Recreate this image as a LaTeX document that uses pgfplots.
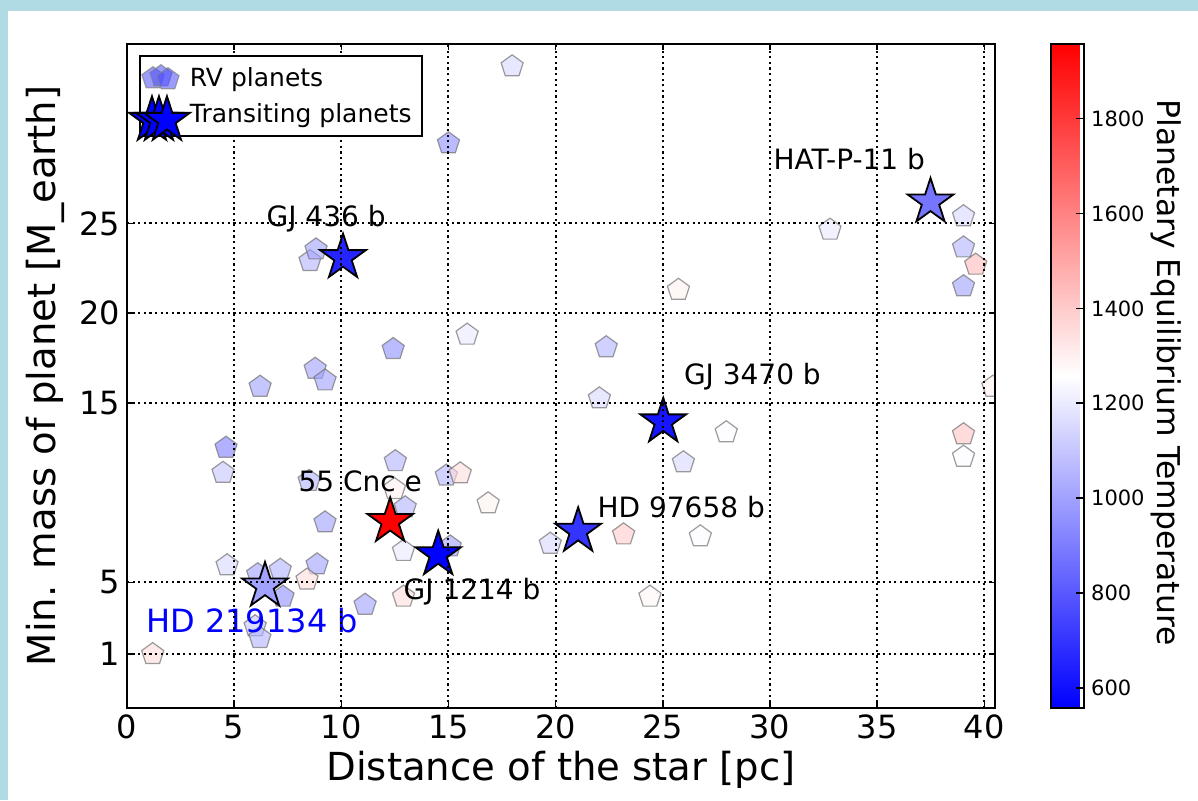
\documentclass[border=0pt]{standalone}
\usepackage{fontspec}
\setmainfont{DejaVu Sans}
\usepackage{pgfplots}
\usepackage{pgfplotstable}
\pgfplotsset{compat=1.18}
\usetikzlibrary{plotmarks}
\definecolor{bgblue}{RGB}{176,218,228}

\pgfdeclareplotmark{fstar}{%
  \pgfpathmoveto{\pgfpointpolar{90}{\pgfplotmarksize}}%
  \pgfpathlineto{\pgfpointpolar{126}{0.382\pgfplotmarksize}}%
  \pgfpathlineto{\pgfpointpolar{162}{\pgfplotmarksize}}%
  \pgfpathlineto{\pgfpointpolar{198}{0.382\pgfplotmarksize}}%
  \pgfpathlineto{\pgfpointpolar{234}{\pgfplotmarksize}}%
  \pgfpathlineto{\pgfpointpolar{270}{0.382\pgfplotmarksize}}%
  \pgfpathlineto{\pgfpointpolar{306}{\pgfplotmarksize}}%
  \pgfpathlineto{\pgfpointpolar{342}{0.382\pgfplotmarksize}}%
  \pgfpathlineto{\pgfpointpolar{18}{\pgfplotmarksize}}%
  \pgfpathlineto{\pgfpointpolar{54}{0.382\pgfplotmarksize}}%
  \pgfpathclose
  \pgfusepathqfillstroke
}

% RV planets: distance [pc], min. mass [M_earth], T_eq [K]
\pgfplotstableread{
x y t
17.97 33.75 1150
15.00 29.46 950
8.54 22.90 1050
8.82 23.55 1000
6.21 15.90 1000
8.78 16.90 1000
9.24 16.25 1000
12.42 18.00 950
15.87 18.80 1200
22.36 18.10 1050
22.04 15.25 1150
4.62 12.50 900
4.48 11.10 1100
12.52 11.75 1050
14.90 10.95 1050
15.55 11.07 1350
16.85 9.40 1300
8.50 10.65 1050
12.48 10.20 1300
12.98 9.18 1050
9.24 8.34 1000
12.90 6.75 1200
15.08 7.00 1000
4.67 5.95 1150
6.10 5.45 1000
7.15 5.70 1050
8.87 6.00 1000
8.40 5.15 1350
7.28 4.20 950
11.11 3.75 1000
12.90 4.20 1350
5.98 2.55 1100
6.20 1.90 1050
1.20 1.00 1350
19.75 7.15 1150
23.17 7.67 1400
24.40 4.20 1280
26.75 7.56 1250
27.96 13.36 1250
25.96 11.69 1150
25.73 21.30 1300
32.80 24.65 1200
39.03 25.40 1150
39.03 23.66 1050
39.60 22.70 1450
39.03 21.50 1000
39.03 13.25 1420
39.03 12.00 1250
40.40 15.90 1300
}\rvdata

% Transiting planets
\pgfplotstableread{
x y t
10.08 23.10 660
37.49 26.20 880
25.02 13.95 615
12.28 8.40 1957
14.52 6.55 560
21.05 7.85 700
6.44 4.80 1000
}\trdata

\begin{document}
\begin{tikzpicture}
\fill[bgblue] (-63.5pt,-46pt) rectangle (535.5pt,354pt);
\fill[white] (-59.5pt,-46pt) rectangle (535.5pt,348.5pt);
\begin{axis}[
  scale only axis, width=434pt, height=332pt,
  xmin=0, xmax=40.5, ymin=-2, ymax=35,
  xtick={0,5,...,40}, ytick={1,5,15,20,25},
  grid=major,
  major grid style={black, line width=1pt, dash pattern=on 1.1pt off 1.7pt},
  axis on top,
  tick align=inside,
  major tick length=3pt,
  tick style={black, line width=0.8pt},
  axis line style={line width=1.1pt},
  tick label style={font=\fontsize{16}{19}\selectfont},
  /pgf/number format/assume math mode=true,
  xlabel={Distance of the star [pc]},
  ylabel={Min. mass of planet [M\_earth]},
  label style={font=\fontsize{19.3}{22}\selectfont},
  xlabel style={at={(axis description cs:0.5,-0.0934)}, anchor=center},
  ylabel style={at={(axis description cs:-0.0945,0.5)}, anchor=center},
  colormap={bwr}{rgb=(0,0,1) rgb=(1,1,1) rgb=(1,0,0)},
  point meta min=558, point meta max=1957,
  colorbar,
  colorbar style={
    at={(parent axis.north east)}, anchor=north west, xshift=19.5pt,
    scale only axis, width=16.5pt, height=332pt,
    grid=none,
    ytick={600,800,...,1800},
    ytick pos=right, yticklabel pos=right,
    tick align=inside, major tick length=4pt,
    tick style={black, line width=0.8pt},
    axis line style={line width=1pt},
    yticklabel style={font=\fontsize{10.5}{12}\selectfont},
    /pgf/number format/1000 sep={},
    /pgf/number format/assume math mode=true,
    ylabel={Planetary Equilibrium Temperature},
    ylabel style={font=\fontsize{15.7}{18}\selectfont, at={(axis description cs:3.5,0.505)}, anchor=center, rotate=180},
  },
  clip marker paths=true,
  legend style={at={(axis description cs:0.0138,0.983)}, anchor=north west,
    draw=black, line width=1pt, fill=white,
    font=\fontsize{12.5}{15}\selectfont, inner xsep=3pt, inner ysep=3.5pt, row sep=3pt},
  legend cell align=left,
]
\addlegendimage{legend image code/.code={
  \begin{pgfinterruptboundingbox}
  \path[draw=none,fill=none] plot[only marks, mark=pentagon*, mark size=5.8pt,
     mark options={draw=black!50, line width=0.6pt, fill=blue!70, fill opacity=0.55, draw opacity=0.7}]
     coordinates {(3.5pt,0pt)(7.5pt,1pt)(11pt,-0.5pt)};
  \end{pgfinterruptboundingbox}
  \path[draw=none,fill=none] (0pt,-5pt) rectangle (20pt,5pt);
}}
\addlegendentry{RV planets}
\addlegendimage{legend image code/.code={
  \begin{pgfinterruptboundingbox}
  \path[draw=none,fill=none] plot[only marks, mark=fstar, mark size=12pt,
     mark options={draw=black, line width=0.9pt, fill=blue}]
     coordinates {(3pt,-3pt)(6.5pt,-3pt)(10.5pt,-3pt)};
  \end{pgfinterruptboundingbox}
  \path[draw=none,fill=none] (0pt,-5pt) rectangle (20pt,5pt);
}}
\addlegendentry{Transiting planets}

\addplot[scatter, only marks, mark=pentagon*, mark size=5.8pt, line width=0.6pt,
  point meta=explicit,
  scatter/use mapped color={draw=black!55, fill=mapped color, fill opacity=0.6, draw opacity=0.7},
  forget plot] table[x=x, y=y, meta=t] {\rvdata};

\addplot[scatter, only marks, mark=fstar, mark size=12pt, line width=0.9pt,
  point meta=explicit,
  scatter/use mapped color={draw=black, fill=mapped color},
  forget plot] table[x=x, y=y, meta=t] {\trdata};

\node[anchor=base, font=\fontsize{14}{16}\selectfont] at (axis cs:9.29,24.83) {GJ 436 b};
\node[anchor=base, font=\fontsize{14}{16}\selectfont] at (axis cs:33.7,28.0) {HAT-P-11 b};
\node[anchor=base, font=\fontsize{14}{16}\selectfont] at (axis cs:29.18,16.03) {GJ 3470 b};
\node[anchor=base, font=\fontsize{14}{16}\selectfont] at (axis cs:10.88,10.07) {55 Cnc e};
\node[anchor=base, font=\fontsize{14}{16}\selectfont] at (axis cs:16.1,4.05) {GJ 1214 b};
\node[anchor=base, font=\fontsize{14}{16}\selectfont] at (axis cs:25.86,8.62) {HD 97658 b};
\node[anchor=base, font=\fontsize{16}{18}\selectfont, text=blue] at (axis cs:5.84,2.21) {HD 219134 b};
\end{axis}
\pgfresetboundingbox
\path[use as bounding box] (-63.5pt,-46pt) rectangle (535.5pt,354pt);
\end{tikzpicture}
\end{document}
